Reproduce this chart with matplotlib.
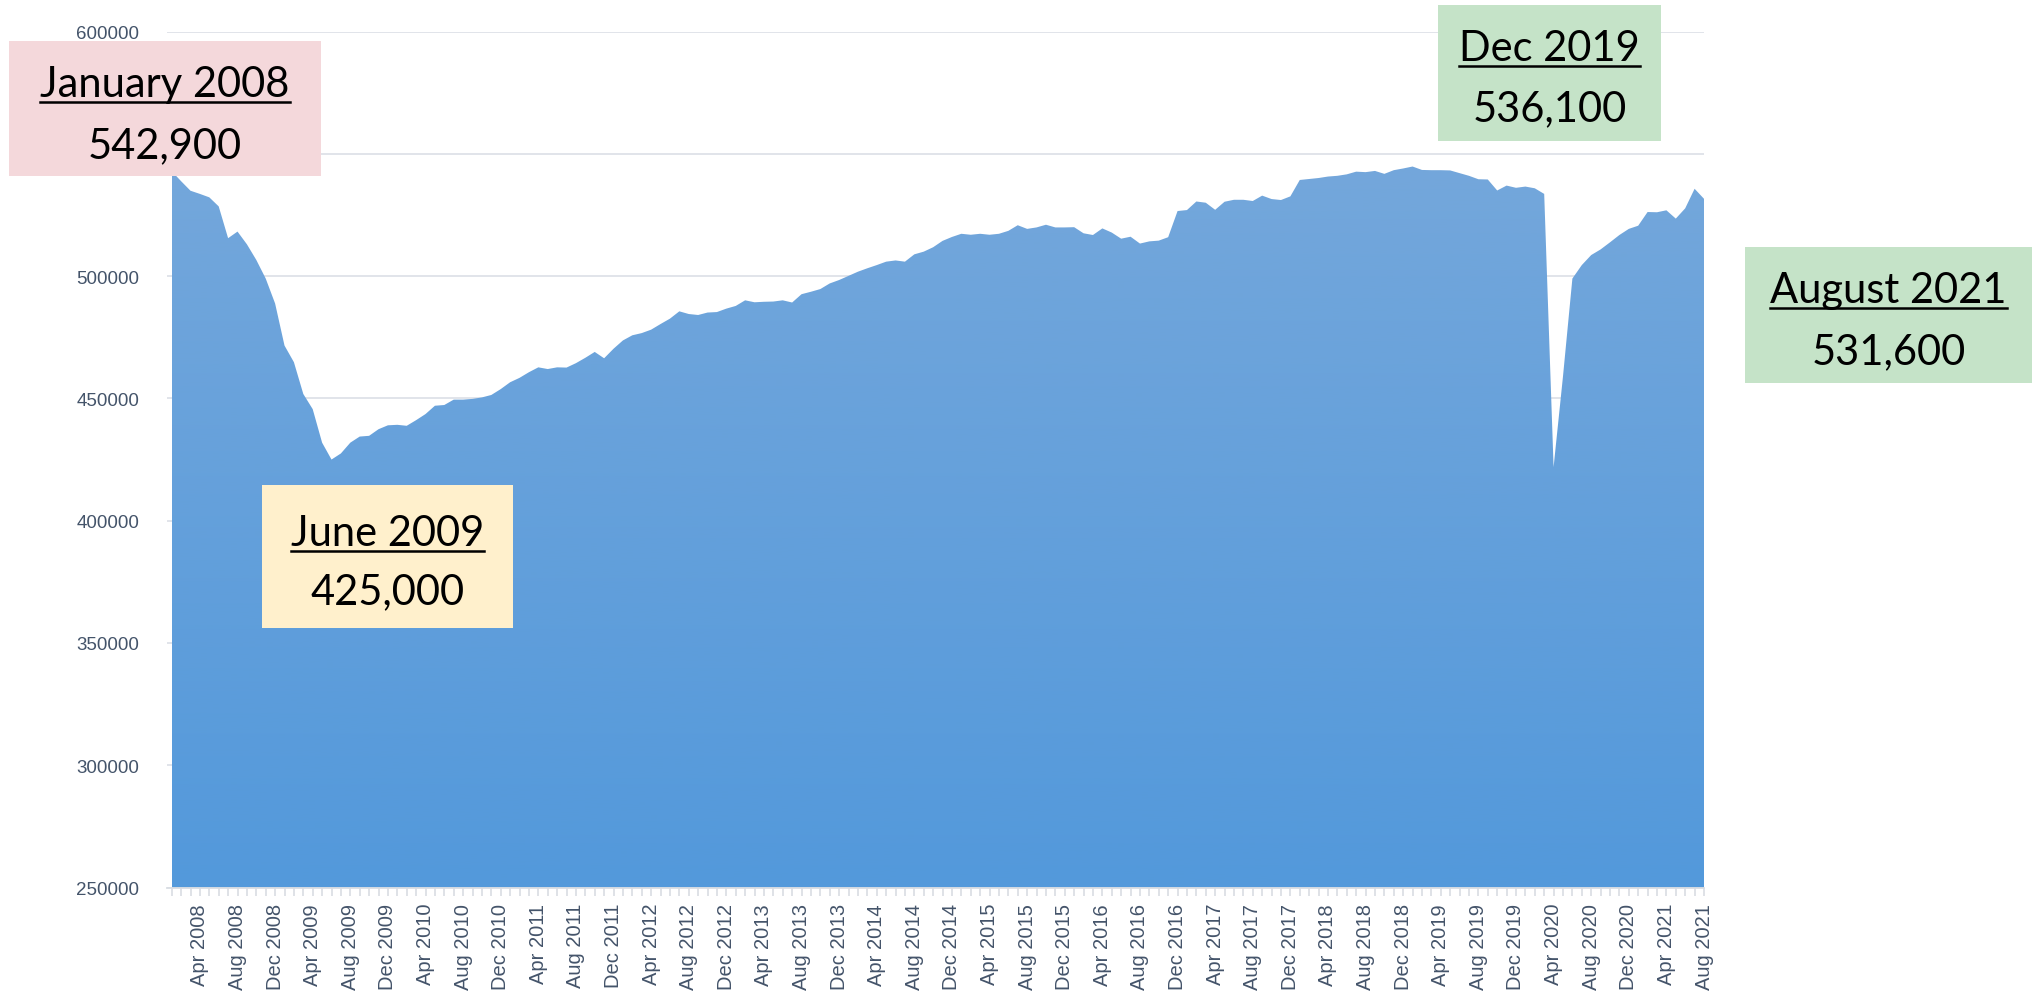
import numpy as np
import pandas as pd
import matplotlib
matplotlib.use("Agg")
import matplotlib.pyplot as plt
from matplotlib.patches import Rectangle
from matplotlib.lines import Line2D
from matplotlib.colors import LinearSegmentedColormap

# %% Data: monthly values, Jan 2008 - Aug 2021
y2008 = [542900, 538800, 534900, 533600, 532200, 528500, 515500, 518200, 513000, 506600, 499000, 488800]
y2009 = [471600, 464800, 451800, 445600, 431900, 425000, 427500, 431900, 434400, 434700, 437400, 439000]
y2010 = [439200, 438800, 441100, 443600, 447000, 447300, 449500, 449500, 449800, 450400, 451400, 453800]
y2011 = [456600, 458400, 460700, 462700, 462000, 462700, 462600, 464400, 466600, 469000, 466400, 470300]
y2012 = [473700, 475800, 476700, 478100, 480400, 482600, 485600, 484500, 484100, 485100, 485300, 486700]
y2013 = [487800, 490100, 489300, 489500, 489600, 490100, 489200, 492600, 493600, 494700, 497000, 498400]
y2014 = [500100, 501800, 503200, 504500, 505900, 506400, 505900, 508900, 510000, 511800, 514400, 516000]
y2015 = [517300, 516900, 517300, 516900, 517300, 518500, 520800, 519300, 519900, 521000, 519900, 519900]
y2016 = [520000, 517500, 516800, 519500, 517800, 515300, 516100, 513300, 514200, 514500, 515900, 526600]
y2017 = [527000, 530500, 530000, 527100, 530400, 531200, 531200, 530700, 532900, 531500, 531100, 532600]
y2018 = [539300, 539700, 540100, 540700, 541000, 541600, 542700, 542500, 543000, 541800, 543300, 544000]
y2019 = [544800, 543400, 543300, 543300, 543200, 542100, 541000, 539600, 539500, 535000, 537000, 536100]
y2020 = [536600, 535900, 533600, 421900, 459000, 499000, 504500, 508600, 510900, 513800, 516800, 519300]
y2021 = [520600, 526200, 526100, 526900, 523500, 527700, 535700, 531600]

values = np.array(y2008 + y2009 + y2010 + y2011 + y2012 + y2013 + y2014 +
                  y2015 + y2016 + y2017 + y2018 + y2019 + y2020 + y2021)
months = pd.date_range("2008-01-01", periods=len(values), freq="MS")
x = np.arange(len(values))

# annotation boxes: (title, value, colour, box px [x0, y0, x1, y1], title baseline px, value centre px)
notes = [
    ("January 2008", "542,900", "#F4D8DB", (9, 42, 321, 177), 97, 146),
    ("June 2009", "425,000", "#FFF0CC", (262, 486, 513, 629), 546, 592),
    ("Dec 2019", "536,100", "#C5E3C8", (1438, 6, 1661, 142), 61, 109),
    ("August 2021", "531,600", "#C5E3C8", (1745, 248, 2032, 384), 303, 352),
]

W, H = 2037, 995
fig = plt.figure(figsize=(W / 100, H / 100), dpi=100)
ax = fig.add_axes([167 / W, 1 - 888.6 / H, (1704 - 167) / W, (888.6 - 32.5) / H])

ymin, ymax = 250000, 600000
ax.set_xlim(-0.5, len(values) - 1)
ax.set_ylim(ymin, ymax)

# gradient filled area
poly = ax.fill_between(x, values, ymin, color="none", lw=0)
cmap = LinearSegmentedColormap.from_list("area", ["#5399DB", "#74A7DB"])
grad = np.linspace(0, 1, 256).reshape(-1, 1)
im = ax.imshow(grad, cmap=cmap, origin="lower", aspect="auto",
               extent=[x[0], x[-1], ymin, values.max()], zorder=2)
im.set_clip_path(poly.get_paths()[0], transform=ax.transData)

# grid + axes styling
ax.set_yticks(np.arange(ymin, ymax + 1, 50000))
ax.set_yticklabels([str(v) for v in range(ymin, ymax + 1, 50000)])
ax.yaxis.grid(True, color="#DEE2E8", lw=1.3, zorder=1)
ax.set_axisbelow(True)
for s in ["top", "right", "left"]:
    ax.spines[s].set_visible(False)
ax.spines["bottom"].set_color("#D9DDE3")
ax.spines["bottom"].set_linewidth(1.3)
ax.spines["bottom"].set_zorder(3)
ax.tick_params(axis="y", length=0, pad=20, labelsize=13.5, labelcolor="#44546A")
for t in ax.get_yticklabels():
    t.set_fontfamily("Liberation Sans")

tick_idx = x[3::4]
ax.set_xticks(tick_idx)
ax.set_xticklabels([m.strftime("%b %Y") for m in months[3::4]], rotation=90,
                   fontsize=14.5, color="#44546A", family="Liberation Sans")
ax.set_xticks(x, minor=True)
ax.tick_params(axis="x", which="both", length=6, color="#D9DDE3", width=1.2, pad=5)

# annotation boxes on top of everything
title_texts = []
for title, val, col, (bx0, by0, bx1, by1), tb, vc in notes:
    fig.add_artist(Rectangle((bx0 / W, 1 - by1 / H), (bx1 - bx0) / W, (by1 - by0) / H,
                             transform=fig.transFigure, facecolor=col, edgecolor="none", zorder=10))
    cx = (bx0 + bx1) / 2 / W
    t = fig.text(cx, 1 - tb / H, title, ha="center", va="baseline", fontsize=30,
                 family="Lato", color="black", zorder=11)
    fig.text(cx, 1 - vc / H, val, ha="center", va="center", fontsize=30,
             family="Lato", color="black", zorder=11)
    title_texts.append((t, tb))

# underline the titles
fig.canvas.draw()
rend = fig.canvas.get_renderer()
for t, tb in title_texts:
    bb = t.get_window_extent(rend)
    yl = 1 - (tb + 6) / H
    fig.add_artist(Line2D([bb.x0 / W, bb.x1 / W], [yl, yl], transform=fig.transFigure,
                          color="black", lw=1.8, zorder=12))

fig.savefig("out.png", dpi=100)
